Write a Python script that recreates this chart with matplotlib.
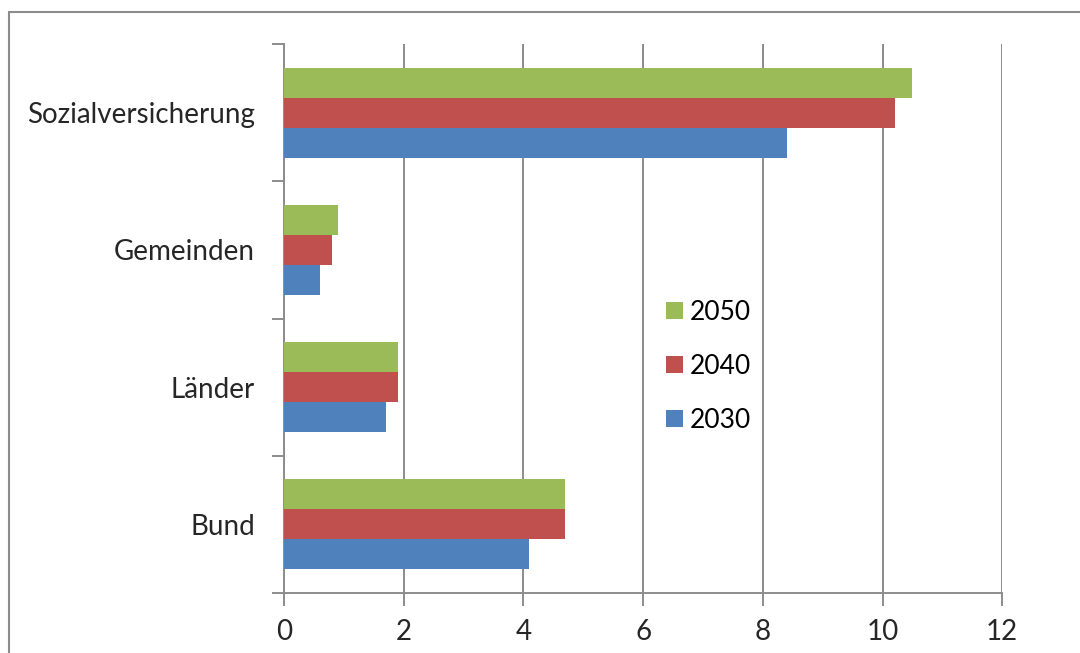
import matplotlib.pyplot as plt
import numpy as np
from matplotlib.patches import Rectangle

categories = ["Bund", "Länder", "Gemeinden", "Sozialversicherung"]
years = ["2030", "2040", "2050"]
values_2030 = [4.1, 1.7, 0.6, 8.4]
values_2040 = [4.7, 1.9, 0.8, 10.2]
values_2050 = [4.7, 1.9, 0.9, 10.5]
x_ticks = [0, 2, 4, 6, 8, 10, 12]

colors = ["#4F81BD", "#C0504D", "#9BBB59"]
grid_color = "#8C8C8C"

plt.rcParams["font.family"] = ["Lato", "DejaVu Sans"]

fig = plt.figure(figsize=(10.8, 6.53), dpi=100)
ax = fig.add_axes([0.263, 0.0919, 0.665, 0.8407])

y = np.arange(len(categories))
bar_h = 0.219
series = [values_2030, values_2040, values_2050]
for i, (vals, col, label) in enumerate(zip(series, colors, years)):
    ax.barh(y + (i - 1) * bar_h, vals, height=bar_h, color=col, label=label, zorder=3)

ax.set_xlim(0, 12)
ax.set_ylim(-0.5, len(categories) - 0.5)
ax.set_xticks(x_ticks)
ax.set_xticklabels([str(t) for t in x_ticks], fontsize=20, color="#262626")
ax.set_yticks(y)
ax.set_yticklabels(categories, fontsize=20, color="#262626")
ax.set_yticks(np.arange(-0.5, len(categories), 1.0), minor=True)

ax.grid(axis="x", color=grid_color, linewidth=1.4, zorder=0)
for side in ["top", "right"]:
    ax.spines[side].set_visible(False)
for side in ["left", "bottom"]:
    ax.spines[side].set_color(grid_color)
    ax.spines[side].set_linewidth(1.4)

ax.tick_params(axis="x", direction="out", length=9, width=1.4, color=grid_color, pad=10)
ax.tick_params(axis="y", which="major", length=0, pad=21)
ax.tick_params(axis="y", which="minor", direction="out", length=9, width=1.4, color=grid_color)

handles, labels = ax.get_legend_handles_labels()
ax.legend(handles[::-1], labels[::-1], loc="center left", bbox_to_anchor=(0.499, 0.413),
          frameon=False, fontsize=19, handlelength=0.64, handleheight=0.64,
          labelspacing=1.1, handletextpad=0.27)

fig.patches.append(Rectangle((9 / 1080, -0.05), 1.1, 1 - 12 / 653 + 0.05,
                             transform=fig.transFigure, fill=False,
                             edgecolor="#8C8C8C", linewidth=1.5))

fig.savefig("out.png", dpi=100)
